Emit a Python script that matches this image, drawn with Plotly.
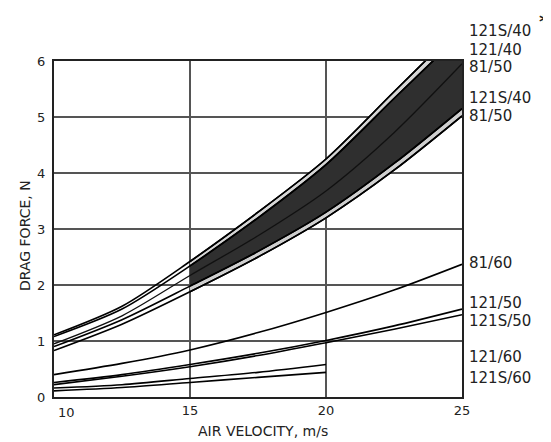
import plotly.graph_objects as go

# ---------------- data ----------------
x_vel = [10, 12.5, 15, 17.5, 20, 22.5, 25]          # air velocity, m/s
x_vel_short = [10, 12.5, 15, 17.5, 20]               # 121/60 series end at 20 m/s

f_121S40_star = [1.11, 1.62, 2.42, 3.30, 4.25, 5.45, 6.65]
f_121_40      = [1.08, 1.57, 2.34, 3.20, 4.15, 5.33, 6.50]
f_81_50_up    = [0.95, 1.45, 2.17, 2.88, 3.68, 4.72, 5.95]
f_121S40      = [0.90, 1.38, 1.98, 2.60, 3.30, 4.17, 5.15]
f_81_50       = [0.83, 1.30, 1.88, 2.50, 3.20, 4.05, 5.02]

f_81_60  = [0.40, 0.60, 0.84, 1.15, 1.51, 1.91, 2.37]
f_121_50 = [0.26, 0.40, 0.58, 0.78, 1.01, 1.27, 1.57]
f_121S50 = [0.22, 0.37, 0.54, 0.74, 0.97, 1.21, 1.47]
f_121_60  = [0.16, 0.22, 0.33, 0.44, 0.58]
f_121S60  = [0.11, 0.17, 0.26, 0.35, 0.44]

x_grid_ticks = [15, 20, 25]
x_first_tick = "10"
y_ticks = [0, 1, 2, 3, 4, 5, 6]

label_texts = ["121S/40", "121/40", "81/50", "121S/40", "81/50",
               "81/60", "121/50", "121S/50", "121/60", "121S/60"]
band_from = 15

# ---------------- layout constants ----------------
OFF = 8                       # default page body margin
PAGE_W, PAGE_H = 551, 442
W, H = PAGE_W - OFF, PAGE_H - OFF
PLOT_L, PLOT_R, PLOT_T, PLOT_B = 54, 462, 61, 397   # page pixels of the plot area
L, T = PLOT_L - OFF, PLOT_T - OFF
R, B = PAGE_W - PLOT_R, PAGE_H - PLOT_B
FONT = "DejaVu Sans"
label_px_y = [31.0, 49.5, 67.0, 98.3, 115.5, 263.3, 303.0, 321.0, 356.7, 378.3]


def paper_y(py):
    return (PLOT_B - py) / (PLOT_B - PLOT_T)


def paper_x(px):
    return (px - PLOT_L) / (PLOT_R - PLOT_L)


fig = go.Figure()
i0 = x_vel.index(band_from)
xb = x_vel[i0:]

line_style = dict(color="black", width=1.6, shape="spline", smoothing=0.8)

# shaded band between 15 and 25 m/s
band = [
    (f_81_50, None, None),
    (f_121S40, "tonexty", "#cfcfcf"),
    (f_121_40, "tonexty", "#2f2f2f"),
    (f_121S40_star, "tonexty", "#d6d6d6"),
]
for ys, fill, fc in band:
    fig.add_trace(go.Scatter(
        x=xb, y=ys[i0:], mode="lines", fill=fill, fillcolor=fc,
        line=line_style, showlegend=False, hoverinfo="skip"))

# all curves
for ys in [f_121S40_star, f_121_40, f_121S40, f_81_50, f_81_60, f_121_50, f_121S50]:
    fig.add_trace(go.Scatter(x=x_vel, y=ys, mode="lines", line=line_style,
                             showlegend=False, hoverinfo="skip"))
fig.add_trace(go.Scatter(x=x_vel, y=f_81_50_up, mode="lines",
                         line=dict(color="#111", width=1.3, shape="spline", smoothing=0.8),
                         showlegend=False, hoverinfo="skip"))
for ys in [f_121_60, f_121S60]:
    fig.add_trace(go.Scatter(x=x_vel_short, y=ys, mode="lines", line=line_style,
                             showlegend=False, hoverinfo="skip"))

axis_common = dict(
    showgrid=True, gridcolor="#555", gridwidth=2,
    showline=True, mirror=True, linecolor="#222", linewidth=2,
    ticks="", zeroline=False,
    tickfont=dict(family=FONT, size=13, color="#222"),
)
fig.update_xaxes(range=[10, 25], tickvals=x_grid_ticks, **axis_common)
fig.update_yaxes(range=[0, 6], tickvals=y_ticks, ticklabelstandoff=4, **axis_common)

annotations = []
for txt, py in zip(label_texts, label_px_y):
    annotations.append(dict(
        text=txt, xref="paper", yref="paper", x=paper_x(467), y=paper_y(py),
        xanchor="left", yanchor="middle", showarrow=False,
        font=dict(family=FONT, size=15, color="#222")))
annotations.append(dict(
    text="<b>*</b>", xref="paper", yref="paper", x=paper_x(544), y=paper_y(21),
    xanchor="center", yanchor="middle", showarrow=False,
    font=dict(family=FONT, size=20, color="#222")))
annotations.append(dict(
    text=x_first_tick, xref="x", yref="paper", x=10, xshift=12, y=paper_y(412),
    xanchor="center", yanchor="middle", showarrow=False,
    font=dict(family=FONT, size=13, color="#222")))
annotations.append(dict(
    text="DRAG FORCE, N", xref="paper", yref="paper", x=paper_x(25), y=paper_y(236),
    xanchor="center", yanchor="middle", textangle=-90, showarrow=False,
    font=dict(family=FONT, size=14, color="#222")))
annotations.append(dict(
    text="AIR VELOCITY, m/s", xref="paper", yref="paper", x=paper_x(263), y=paper_y(431),
    xanchor="center", yanchor="middle", showarrow=False,
    font=dict(family=FONT, size=14, color="#222")))

fig.update_layout(
    width=W, height=H,
    margin=dict(l=L, r=R, t=T, b=B, pad=0),
    plot_bgcolor="white", paper_bgcolor="white",
    annotations=annotations,
    showlegend=False,
)

fig.write_html("out.html")
